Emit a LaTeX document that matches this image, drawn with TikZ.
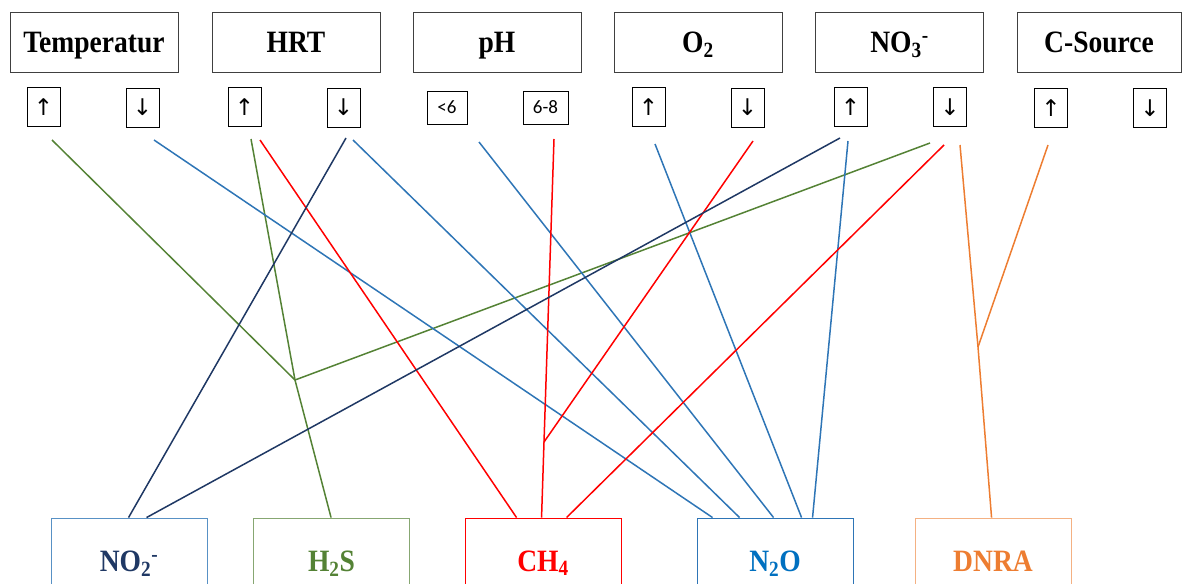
\documentclass[tikz,border=0pt]{standalone}
\usepackage{fontspec}
\usepackage{graphicx}
\setmainfont{Liberation Serif}
\newfontfamily\numfont{Carlito}
\newfontfamily\symfont{DejaVu Sans}
\usetikzlibrary{calc}
\definecolor{cgreen}{HTML}{548235}
\definecolor{cblue}{HTML}{2E75B6}
\definecolor{cnavy}{HTML}{1F3864}
\definecolor{cred}{HTML}{FF0000}
\definecolor{corange}{HTML}{ED7D31}
\definecolor{cn2o}{HTML}{0070C0}
\newcommand\tallbf[1]{\scalebox{1.02}[1.15]{\fontsize{27}{30}\selectfont\bfseries #1}}
\newcommand\up{{\symfont\fontsize{23}{26}\selectfont ↑}}
\newcommand\down{{\symfont\fontsize{23}{26}\selectfont ↓}}
\tikzset{
  parambox/.style={draw=black!75, line width=0.9pt, minimum width=168pt, minimum height=60pt,
    inner sep=0pt, text height=21pt, text depth=0pt},
  levelbox/.style={draw=black, line width=0.9pt, minimum width=33pt, minimum height=39pt, inner sep=0pt},
  rangebox/.style={draw=black, line width=0.9pt, minimum height=33pt, inner sep=0pt, font=\numfont\fontsize{19}{22}\selectfont},
  resultbox/.style={line width=0.9pt, minimum width=156pt, minimum height=86pt, inner sep=0pt,
    text height=21pt, text depth=0pt},
  link/.style={line width=1.5pt},
}
\begin{document}
\begin{tikzpicture}[x=1pt,y=-1pt]
\useasboundingbox (0,0) rectangle (1182,583);

% controlling parameters
\node[parambox] (temp) at (94,42)   {\tallbf{Temperatur}};
\node[parambox] (hrt)  at (296,42)  {\tallbf{HRT}};
\node[parambox] (ph)   at (497,42)  {\tallbf{pH}};
\node[parambox] (o2)   at (698,42)  {\tallbf{O\textsubscript{2}}};
\node[parambox] (no3)  at (899.5,42){\tallbf{NO\textsubscript{3}\textsuperscript{-}}};
\node[parambox, minimum width=164pt] (csrc) at (1099,42) {\tallbf{C-Source}};

% increase / decrease markers
\node[levelbox] (tu) at (43.5,107)  {\up};
\node[levelbox] (td) at (142.5,107.5) {\down};
\node[levelbox] (hu) at (244.5,107) {\up};
\node[levelbox] (hd) at (343.5,107.5) {\down};
\node[rangebox, minimum width=40pt] (pl) at (447,107.5) {<6};
\node[rangebox, minimum width=45pt] (pn) at (545.5,107.5) {6-8};
\node[levelbox] (ou) at (648.5,107) {\up};
\node[levelbox] (od) at (747.5,107.5) {\down};
\node[levelbox] (nu) at (850.5,107) {\up};
\node[levelbox] (nd) at (950,107)   {\down};
\node[levelbox] (cu) at (1051,108)  {\up};
\node[levelbox] (cd) at (1150,108)  {\down};

% resulting products
\node[resultbox, draw=cblue!80]    (no2)  at (129,561)   {\tallbf{\color{cnavy}NO\textsubscript{2}\textsuperscript{-}}};
\node[resultbox, draw=cgreen!70]   (h2s)  at (331.5,561) {\tallbf{\color{cgreen}H\textsubscript{2}S}};
\node[resultbox, draw=cred]        (ch4)  at (543,561)   {\tallbf{\color{cred}CH\textsubscript{4}}};
\node[resultbox, draw=cblue]       (n2o)  at (775,561)   {\tallbf{\color{cn2o}N\textsubscript{2}O}};
\node[resultbox, draw=corange!60]  (dnra) at (993,561)   {\tallbf{\color{corange}DNRA}};

% line origins below the markers
\coordinate (tu-g) at (52,140);
\coordinate (td-b) at (154,140);
\coordinate (hu-g) at (251,139);
\coordinate (hu-r) at (260,140);
\coordinate (hd-n) at (346,138);
\coordinate (hd-b) at (353,140);
\coordinate (pl-b) at (479,142);
\coordinate (pn-r) at (554,139);
\coordinate (ou-b) at (655,144);
\coordinate (od-r) at (753,141);
\coordinate (nu-n) at (840,138);
\coordinate (nu-b) at (848,141);
\coordinate (nd-g) at (930,143);
\coordinate (nd-r) at (944,145);
\coordinate (nd-o) at (960,145);
\coordinate (cu-o) at (1048,145);

% junctions
\coordinate (jg) at (295,380);
\coordinate (jr) at (544,442);
\coordinate (jo) at (978,347);

% entry points on the product boxes
\coordinate (no2-a) at ($(no2.north west)+(78,0)$);
\coordinate (no2-b) at ($(no2.north west)+(96,0)$);
\coordinate (h2s-a) at ($(h2s.north west)+(78,0)$);
\coordinate (ch4-a) at ($(ch4.north west)+(52,0)$);
\coordinate (ch4-b) at ($(ch4.north west)+(77,0)$);
\coordinate (ch4-c) at ($(ch4.north west)+(102,0)$);
\coordinate (n2o-a) at ($(n2o.north west)+(16,0)$);
\coordinate (n2o-b) at ($(n2o.north west)+(43,0)$);
\coordinate (n2o-c) at ($(n2o.north west)+(77,0)$);
\coordinate (n2o-d) at ($(n2o.north west)+(105,0)$);
\coordinate (n2o-e) at ($(n2o.north west)+(116,0)$);
\coordinate (dnra-a) at ($(dnra.north west)+(77,0)$);

% H2S
\draw[link, cgreen] (tu-g) -- (jg);
\draw[link, cgreen] (nd-g) -- (jg);
\draw[link, cgreen] (hu-g) -- (jg) -- (h2s-a);

% N2O
\draw[link, cblue] (td-b) -- (n2o-a);
\draw[link, cblue] (hd-b) -- (n2o-b);
\draw[link, cblue] (pl-b) -- (n2o-c);
\draw[link, cblue] (ou-b) -- (n2o-d);
\draw[link, cblue] (nu-b) -- (n2o-e);

% CH4
\draw[link, cred] (hu-r) -- (ch4-a);
\draw[link, cred] (pn-r) -- (jr) -- (ch4-b);
\draw[link, cred] (od-r) -- (jr);
\draw[link, cred] (nd-r) -- (ch4-c);

% NO2-
\draw[link, cnavy] (hd-n) -- (no2-a);
\draw[link, cnavy] (nu-n) -- (no2-b);

% DNRA
\draw[link, corange] (nd-o) -- (jo) -- (dnra-a);
\draw[link, corange] (cu-o) -- (jo);
\end{tikzpicture}
\end{document}
